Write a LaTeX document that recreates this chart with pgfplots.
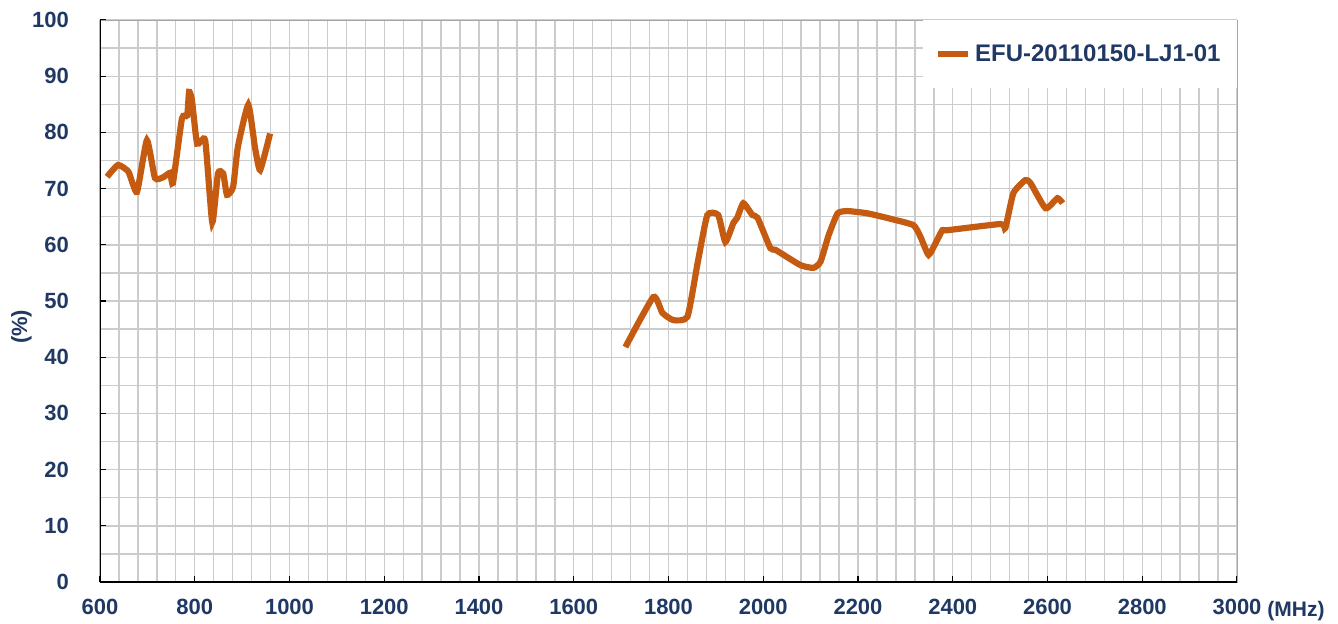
\documentclass[border=0pt]{standalone}
\usepackage{fontspec}
\setmainfont{Liberation Sans}
\usepackage{pgfplots}
\pgfplotsset{compat=1.18}
\definecolor{cline}{HTML}{C55A11}
\definecolor{ctext}{HTML}{1F3864}
\definecolor{cgrid}{HTML}{CCCCCC}

\begin{document}
\begin{tikzpicture}
\useasboundingbox (-50pt,-20.5pt) rectangle (619pt,291pt);
\begin{axis}[
    name=ax,
    at={(0pt,0pt)}, anchor=south west,
    scale only axis,
    width=568.5pt, height=281pt,
    xmin=600, xmax=3000,
    ymin=0, ymax=100,
    xtick distance=200, ytick distance=10,
    minor x tick num=4, minor y tick num=1,
    grid=both,
    major grid style={cgrid, line width=0.7pt},
    minor grid style={cgrid, line width=0.7pt},
    axis line style={draw=gray!70},
    tick pos=left,
    tick align=inside,
    major tick length=3pt,
    minor tick length=0pt,
    tick style={black, line width=0.6pt},
    /pgf/number format/assume math mode=true,
    /pgf/number format/1000 sep={},
    ticklabel style={font=\bfseries\fontsize{11}{13}\selectfont, text=ctext},
    yticklabel style={xshift=-12pt},
    xticklabel style={yshift=-5pt},
    ylabel={(\%)},
    ylabel style={font=\bfseries\fontsize{11}{13}\selectfont, text=ctext,
        at={(axis description cs:-0.069,0.454)}, anchor=center},
    legend style={at={(1,1)}, anchor=north east, draw=none, fill=white,
        inner xsep=6pt, inner ysep=10pt,
        font=\bfseries\fontsize{12}{14}\selectfont, text=ctext},
    legend image code/.code={\draw[#1, line width=3pt] (0pt,0pt) -- (15pt,0pt);},
]
\addplot[cline, line width=3.1pt, smooth, tension=0.3] coordinates {
    (615,72.1) (638,74.2) (660,73.0) (678,69.4) (699,78.6) (716,71.9) (733,72.0)
    (748,72.8) (754,71.0) (773,82.5) (784,83.0) (788,87.2) (794,85.8) (805,78.0)
    (822,78.6) (837,64.0) (849,72.7) (860,72.7) (868,68.9) (881,70.3) (891,77.4)
    (913,84.9) (927,77.4) (938,73.3) (959,79.8)
};
\addlegendentry{EFU-20110150-LJ1-01}
\addplot[cline, line width=3.1pt, smooth, tension=0.3, forget plot] coordinates {
    (1709,41.8) (1768,50.7) (1787,47.9) (1810,46.6) (1840,47.2) (1862,57.0)
    (1882,65.3) (1905,65.3) (1920,60.5) (1937,63.9) (1945,64.8) (1958,67.4)
    (1977,65.3) (1988,64.8) (2015,59.4) (2026,59.1) (2078,56.4) (2106,55.9)
    (2121,57.0) (2138,61.7) (2157,65.6) (2178,66.0) (2220,65.6) (2270,64.6)
    (2317,63.5) (2332,61.4) (2349,58.2) (2365,60.5) (2378,62.6) (2389,62.6)
    (2501,63.7) (2511,63.0) (2528,69.2) (2553,71.5) (2564,71.0) (2596,66.5)
    (2621,68.3) (2632,67.4)
};
\draw[black, line width=0.6pt] (rel axis cs:0,1) -- (rel axis cs:0,0) -- (rel axis cs:1,0);
\end{axis}
\node[anchor=north west, font=\bfseries\fontsize{10.5}{13}\selectfont, text=ctext,
    inner sep=0pt] at ([xshift=15pt, yshift=-9.5pt]ax.south east) {(MHz)};
\end{tikzpicture}
\end{document}
